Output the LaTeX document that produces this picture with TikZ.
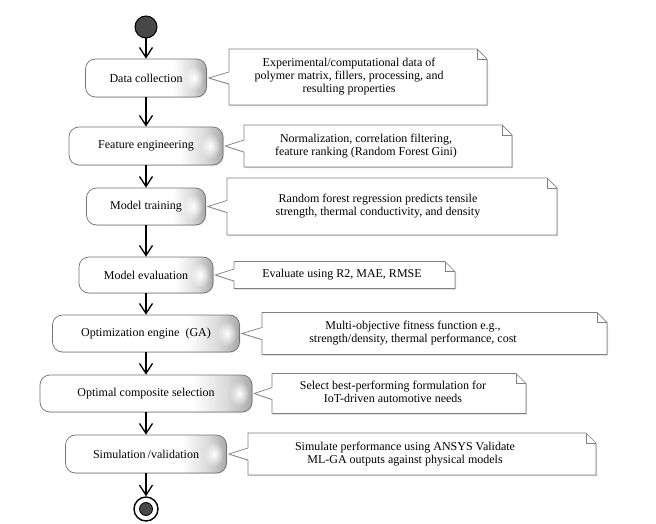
\documentclass[tikz,border=0pt]{standalone}
\usepackage{fontspec}
\setmainfont{Liberation Serif}
\newfontfamily\serifnote{Liberation Serif}
\usetikzlibrary{arrows.meta,calc,shadows,fadings}
\pgfdeclarelayer{bg}
\pgfsetlayers{bg,main}
\pgfdeclarehorizontalshading{boxshade}{100bp}{color(0bp)=(white); color(25bp)=(white); color(61bp)=(white); color(69bp)=(black!14); color(75bp)=(black!34); color(100bp)=(black!34)}
\tikzfading[name=blobfade, inner color=transparent!0, outer color=transparent!100]
\newcommand\drawnote[2]{%
  \draw[noteline] (#1.north west) -- ($(#1.north east)+(-10pt,0)$) -- ($(#1.north east)+(0,-10pt)$) -- (#1.south east) -- (#1.south west) -- ($(#1.west |- #2.east)+(0,-6pt)$) -- ($(#2.east)+(2pt,0)$) -- ($(#1.west |- #2.east)+(0,6pt)$) -- cycle;
  \draw[foldline] ($(#1.north east)+(-10pt,0)$) -- ($(#1.north east)+(-10pt,-10pt)$) -- ($(#1.north east)+(0,-10pt)$);
}
\newcommand\shine[1]{%
  \fill[white, path fading=blobfade] ($(#1.east)+(-13pt,0)$) ellipse [x radius=10pt, y radius=13pt];
}
\begin{document}
\begin{tikzpicture}[x=1pt,y=-1pt,
  every node/.style={font=\serifnote\fontsize{12}{13}\selectfont},
  flowbox/.style={draw=black!55, line width=0.7pt, rounded corners=10pt, shading=boxshade, minimum height=37pt, inner sep=0pt,
    drop shadow={shadow xshift=0.8pt,shadow yshift=-0.8pt,opacity=0.25}},
  notebox/.style={inner sep=0pt, outer sep=0pt},
  noteline/.style={draw=black!50, line width=0.7pt, fill=white,
    drop shadow={shadow xshift=1.2pt,shadow yshift=-1.2pt,opacity=0.35}},
  foldline/.style={draw=black!50, line width=0.7pt},
  flow/.style={line width=2.4pt, -{Straight Barb[length=10pt,width=13pt,line width=1.3pt]}},
]
\begin{pgfonlayer}{bg}
\fill[white] (0,0) rectangle (656,524);
\end{pgfonlayer}
\useasboundingbox (0,0) rectangle (656,524);

% start and end
\node[circle, minimum size=22pt, inner sep=0pt, fill=black!72, draw=black, line width=1pt] (s) at (146,27) {};
\node[circle, minimum size=24pt, inner sep=0pt, fill=white, draw=black, line width=1.4pt] (e) at (146,509) {};
\node[circle, minimum size=13pt, inner sep=0pt, fill=black!72, draw=black, line width=0.8pt] (ei) at (e.center) {};

% activity boxes
\node[flowbox, minimum width=121pt, minimum height=38pt] (b1) at (146,78) {Data collection};
\node[flowbox, minimum width=154pt, minimum height=38pt] (b2) at (146,146) {Feature engineering};
\node[flowbox, minimum width=119pt] (b3) at (146,206.5) {Model training};
\node[flowbox, minimum width=134pt, minimum height=36pt] (b4) at (146,275) {Model evaluation};
\node[flowbox, minimum width=187pt] (b5) at (146,333.5) {Optimization engine\ \ (GA)};
\node[flowbox, minimum width=212pt] (b6) at (146,393.5) {Optimal composite selection};
\node[flowbox, minimum width=161pt, minimum height=38pt] (b7) at (146,454) {Simulation\,/validation};
\foreach \b in {b1,b2,b3,b4,b5,b6,b7} {\shine{\b}}

% flow arrows
\draw[flow] (s) -- (b1);
\draw[flow] (b1) -- (b2);
\draw[flow] (b2) -- (b3);
\draw[flow] (b3) -- (b4);
\draw[flow] (b4) -- (b5);
\draw[flow] (b5) -- (b6);
\draw[flow] (b6) -- (b7);
\draw[flow] (b7) -- (e);

% notes
\node[notebox, minimum width=258pt, minimum height=56pt] (n1) at (358,77)
  {\begin{tabular}{@{}c@{}}Experimental/computational data of\\polymer matrix, fillers, processing, and\\resulting properties\end{tabular}\hspace*{18pt}};
\node[notebox, minimum width=268pt, minimum height=42pt] (n2) at (378,146)
  {\begin{tabular}{@{}c@{}}Normalization, correlation filtering,\\feature ranking (Random Forest Gini)\end{tabular}\hspace*{24pt}};
\node[notebox, minimum width=330pt, minimum height=57pt] (n3) at (392,206.5)
  {\begin{tabular}{@{}c@{}}Random forest regression predicts tensile\\strength, thermal conductivity, and density\end{tabular}\hspace*{28pt}};
\node[notebox, minimum width=221pt, minimum height=27pt] (n4) at (344.5,275)
  {Evaluate using R2, MAE, RMSE\hspace*{5pt}};
\node[notebox, minimum width=345pt, minimum height=42pt] (n5) at (434.5,333.5)
  {\begin{tabular}{@{}c@{}}Multi-objective fitness function e.g.,\\strength/density, thermal performance, cost\end{tabular}\hspace*{43pt}};
\node[notebox, minimum width=254pt, minimum height=40pt] (n6) at (399,393.5)
  {\begin{tabular}{@{}c@{}}Select best-performing formulation for\\IoT-driven automotive needs\end{tabular}\hspace*{12pt}};
\node[notebox, minimum width=348pt, minimum height=42pt] (n7) at (422,454)
  {\begin{tabular}{@{}c@{}}Simulate performance using ANSYS Validate\\ML-GA outputs against physical models\end{tabular}\hspace*{34pt}};

\begin{pgfonlayer}{bg}
\drawnote{n1}{b1}
\drawnote{n2}{b2}
\drawnote{n3}{b3}
\drawnote{n4}{b4}
\drawnote{n5}{b5}
\drawnote{n6}{b6}
\drawnote{n7}{b7}
\end{pgfonlayer}
\end{tikzpicture}
\end{document}
